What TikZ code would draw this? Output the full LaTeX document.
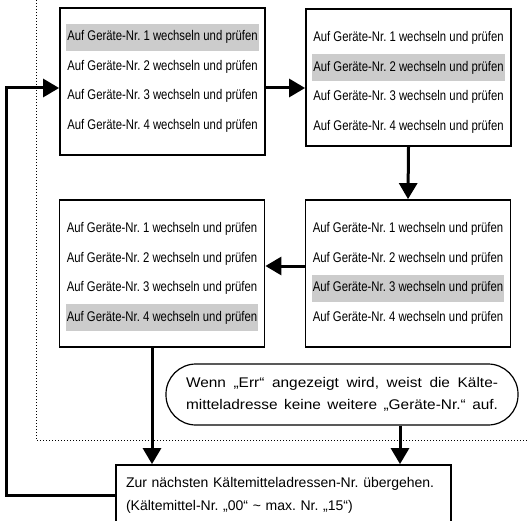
\documentclass[tikz,border=0pt]{standalone}
\usepackage{fontspec}
\setmainfont{Liberation Sans}
\newfontfamily\narrowfont{Liberation Sans}[FakeStretch=0.81]
\newfontfamily\widefont{Liberation Sans}[FakeStretch=1.1]
\usetikzlibrary{arrows.meta, calc, positioning}

\begin{document}
\frenchspacing
\begin{tikzpicture}[x=1pt, y=1pt,
    box/.style={draw, line width=1.8pt, minimum width=205pt, inner sep=0pt},
    row/.style={inner xsep=1pt, inner ysep=0pt, minimum height=27pt,
                font=\narrowfont\fontsize{14}{16}\selectfont},
    arr/.style={line width=3pt, -{Triangle[length=16pt, width=18pt]}},
    font=\fontsize{14}{23}\selectfont]
        \useasboundingbox (0,0) rectangle (527,520);

        % dotted frame
        \draw[dotted, line width=1pt] (36,520) -- (36,80) -- (527,80);

        % the four device boxes
        \node[box, minimum height=147pt] (A) at (162.5,438.5) {};
        \node[box, minimum height=137pt] (B) at (408.5,442.5) {};
        \node[box, minimum height=147pt] (C) at (408,246.5) {};
        \node[box, minimum height=147pt] (D) at (162,246.5) {};

        \foreach \b/\h in {A/1, B/2, C/3, D/4}
          \foreach \i in {1,...,4} {
            \ifnum\i=\h \tikzset{rowfill/.style={fill=black!20}}
            \else \tikzset{rowfill/.style={}}\fi
            \node[row, rowfill] (\b\i) at ([yshift={-30pt-29.5pt*(\i-1)}]\b.north)
                {Auf Geräte-Nr. \i{} wechseln und prüfen};
          }

        % note and next address
        \node[draw, line width=1.2pt, rounded corners=30pt, minimum width=352pt,
              minimum height=61pt, align=center,
              font=\widefont\fontsize{14}{22}\selectfont] (note) at (342,125.5)
            {\makebox[312pt][s]{Wenn „Err“ angezeigt wird, weist die Kälte-}\\
             \makebox[312pt][s]{mitteladresse keine weitere „Geräte-Nr.“ auf.}};

        \node[draw, line width=1.8pt, text width=315pt, inner xsep=10pt,
              minimum height=60pt, align=left] (next) at (283.5,25)
            {Zur nächsten Kältemitteladressen-Nr. übergehen.\\
             (Kältemittel-Nr. „00“ \textasciitilde{} max. Nr. „15“)};

        \coordinate (top) at (0,432);
        \coordinate (mid) at (0,254);
        \coordinate (back) at (6,0);
        \coordinate (dl) at (152,0);
        \coordinate (nl) at (400,0);

        \draw[arr] (A.east |- top) -- (B.west |- top);
        \draw[arr] (B.south) -- (C.north);
        \draw[arr] (C.west |- mid) -- (D.east |- mid);
        \draw[arr] (D.south -| dl) -- (next.north -| dl);
        \draw[arr] (note.south -| nl) -- (next.north -| nl);
        \draw[arr] (next.west) -| (back |- top) -- (A.west |- top);
    \end{tikzpicture}
\end{document}
